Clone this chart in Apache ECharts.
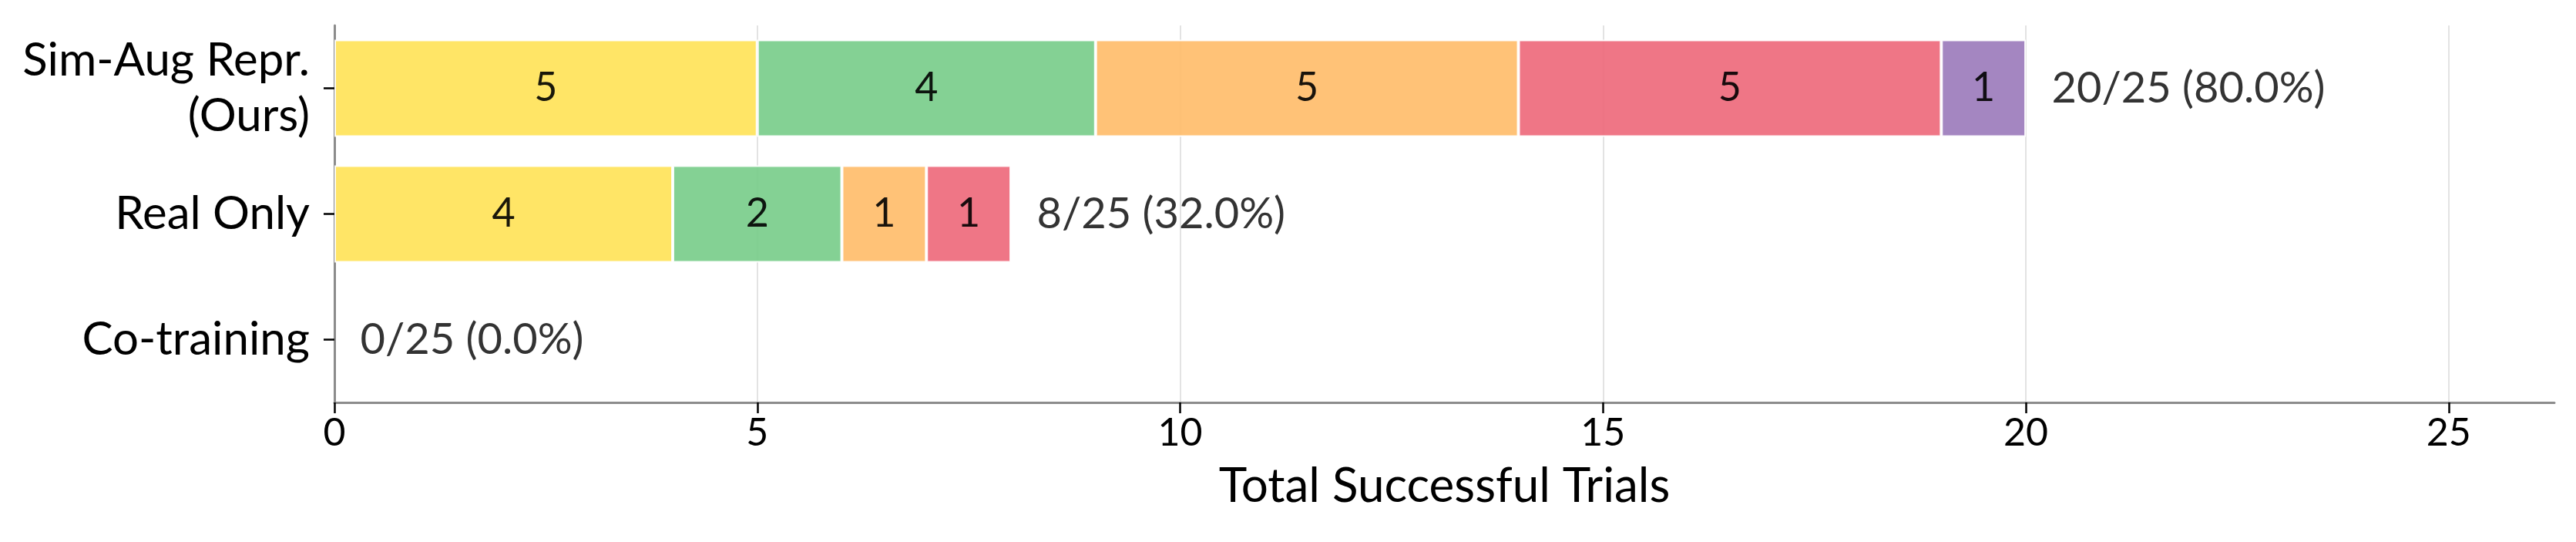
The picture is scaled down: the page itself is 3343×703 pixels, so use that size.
<!DOCTYPE html>
<html>
<head>
<meta charset="utf-8">
<script src="https://cdn.jsdelivr.net/npm/echarts@6/dist/echarts.min.js"></script>
<style>
html,body{margin:0;padding:0;background:#fff;}
#chart{width:3343px;height:703px;}
</style>
</head>
<body>
<div id="chart"></div>
<script>
// Categories (top to bottom)
const categories = ['Sim-Aug Repr.\n(Ours)', 'Real Only', 'Co-training'];
// Stacked segment values per category
const seg1 = [5, 4, 0];
const seg2 = [4, 2, 0];
const seg3 = [5, 1, 0];
const seg4 = [5, 1, 0];
const seg5 = [1, 0, 0];
const totalTrials = 25;
const xTicks = [0, 5, 10, 15, 20, 25];
const segColors = ['#FFE255', '#77CC88', '#FFBB68', '#ED6779', '#9A79BA'];

const FONT = 'Lato, "Open Sans", sans-serif';
const segments = [seg1, seg2, seg3, seg4, seg5];
const totals = categories.map((c, i) => segments.reduce((s, a) => s + a[i], 0));

const barSeries = segments.map((arr, k) => ({
  type: 'bar',
  stack: 'total',
  barWidth: 126,
  data: arr.map(v => (v > 0 ? v : '-')),
  itemStyle: { color: segColors[k], opacity: 0.9, borderColor: '#ffffff', borderWidth: 2 },
  label: {
    show: true,
    position: 'inside',
    color: '#000',
    fontFamily: FONT,
    fontSize: 52,
    formatter: p => (p.value > 0 ? String(p.value) : '')
  },
  emphasis: { disabled: true },
  z: 3
}));

const totalSeries = {
  type: 'scatter',
  symbolSize: 1,
  itemStyle: { color: 'rgba(0,0,0,0)' },
  data: totals.map((t, i) => [t, categories[i]]),
  label: {
    show: true,
    position: 'right',
    distance: 33,
    color: '#000',
    fontFamily: FONT,
    fontSize: 56,
    formatter: p => {
      const t = p.value[0];
      return t + '/' + totalTrials + ' (' + (t / totalTrials * 100).toFixed(1) + '%)';
    }
  },
  z: 4
};

const chart = echarts.init(document.getElementById('chart'), null, { renderer: 'canvas' });
chart.setOption({
  animation: false,
  backgroundColor: '#ffffff',
  grid: { left: 434, right: 28, top: 33, bottom: 181, containLabel: false },
  xAxis: {
    type: 'value',
    min: 0,
    max: 26.25,
    interval: 5,
    name: 'Total Successful Trials',
    nameLocation: 'middle',
    nameGap: 78,
    nameTextStyle: { fontFamily: FONT, fontSize: 62, color: '#000' },
    axisLine: { show: true, lineStyle: { color: '#8c8c8c', width: 3 } },
    axisTick: { show: true, length: 14, lineStyle: { color: '#000', width: 2.5 }, customValues: xTicks },
    axisLabel: { fontFamily: FONT, fontSize: 50, color: '#000', margin: 15, customValues: xTicks },
    splitLine: { show: true, showMinLine: false, lineStyle: { color: '#e3e3e3', width: 2 } }
  },
  yAxis: {
    type: 'category',
    inverse: true,
    data: categories,
    axisLine: { show: true, lineStyle: { color: '#8c8c8c', width: 3 } },
    axisTick: { show: true, alignWithLabel: true, length: 14, lineStyle: { color: '#000', width: 2.5 } },
    axisLabel: { fontFamily: FONT, fontSize: 60, color: '#000', margin: 32, lineHeight: 72, align: 'right' },
    splitLine: { show: false }
  },
  series: [...barSeries, totalSeries]
});
</script>
</body>
</html>
